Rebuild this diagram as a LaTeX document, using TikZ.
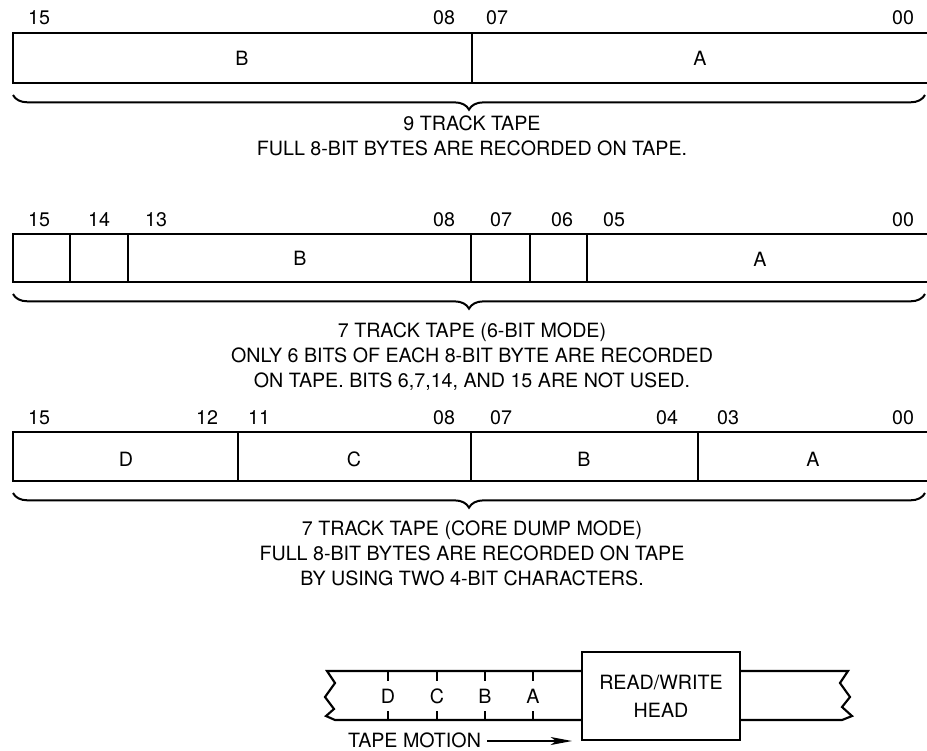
\documentclass[tikz,border=0pt]{standalone}
\usepackage{fontspec}
\setmainfont{TeX Gyre Heros}
\usetikzlibrary{decorations.pathreplacing,arrows.meta}
\begin{document}
\begin{tikzpicture}[x=0.75pt,y=-0.75pt,line width=1.6pt,line join=miter,
  txt/.style={font=\fontsize{14.75}{15}\selectfont,inner sep=0pt},
  capt/.style={font=\fontsize{14.75}{15}\selectfont,inner sep=0pt,align=center,anchor=north},
  brc/.style={decorate,decoration={brace,mirror,amplitude=11pt},line width=1.5pt},
  divl/.style={line width=1.6pt}]
\useasboundingbox (0,0) rectangle (927,750);

% ---------- register 1: 9 track
\draw (935,33) -- (13,33) -- (13,83) -- (935,83);
\draw[divl] (472,33) -- (472,83);
\node[txt] (r1b15) at (39,18) {15};
\node[txt] (r1b08) at (444,18) {08};
\node[txt] (r1b07) at (497,18) {07};
\node[txt] (r1b00) at (903,18) {00};
\node[txt] (r1B) at (242,58) {B};
\node[txt] (r1A) at (700,58) {A};
\draw[brc] (13,95) -- (925,95);
\node[capt] (r1cap) at (472,115) {9 TRACK TAPE\\[3.5pt]FULL 8-BIT BYTES ARE RECORDED ON TAPE.};

% ---------- register 2: 7 track 6-bit
\draw (935,234) -- (13,234) -- (13,282) -- (935,282);
\foreach \xx in {70,128,471,530,587} \draw[divl] (\xx,234) -- (\xx,282);
\node[txt] (r2b15) at (39,220) {15};
\node[txt] (r2b14) at (99,220) {14};
\node[txt] (r2b13) at (156,220) {13};
\node[txt] (r2b08) at (444,220) {08};
\node[txt] (r2b07) at (501,220) {07};
\node[txt] (r2b06) at (562,220) {06};
\node[txt] (r2b05) at (614,220) {05};
\node[txt] (r2b00) at (903,220) {00};
\node[txt] (r2B) at (300,258) {B};
\node[txt] (r2A) at (760,259) {A};
\draw[brc] (13,294) -- (925,294);
\node[capt] (r2cap) at (472,322) {7 TRACK TAPE (6-BIT MODE)\\[3.5pt]ONLY 6 BITS OF EACH 8-BIT BYTE ARE RECORDED\\[3.5pt]ON TAPE. BITS 6,7,14, AND 15 ARE NOT USED.};

% ---------- register 3: core dump
\draw (935,432) -- (13,432) -- (13,481) -- (935,481);
\foreach \xx in {238,471,698} \draw[divl] (\xx,432) -- (\xx,481);
\node[txt] (r3b15) at (39,418) {15};
\node[txt] (r3b12) at (207,418) {12};
\node[txt] (r3b11) at (259,418) {11};
\node[txt] (r3b08) at (444,418) {08};
\node[txt] (r3b07) at (501,418) {07};
\node[txt] (r3b04) at (667,418) {04};
\node[txt] (r3b03) at (728,418) {03};
\node[txt] (r3b00) at (903,418) {00};
\node[txt] (r3D) at (126,459) {D};
\node[txt] (r3C) at (354,459) {C};
\node[txt] (r3B) at (584,459) {B};
\node[txt] (r3A) at (813,459) {A};
\draw[brc] (13,493) -- (925,493);
\node[capt] (r3cap) at (472,520) {7 TRACK TAPE (CORE DUMP MODE)\\[3.5pt]FULL 8-BIT BYTES ARE RECORDED ON TAPE\\[3.5pt]BY USING TWO 4-BIT CHARACTERS.};

% ---------- tape and head
\node[draw,line width=1.6pt,minimum width=158*0.75pt,minimum height=88*0.75pt,inner sep=0pt] (head) at (661,696) {};
\node[txt] (headtxt1) at (661,683) {READ/WRITE};
\node[txt] (headtxt2) at (661,710) {HEAD};
\coordinate (ltop) at (327,671);
\coordinate (lbot) at (335,720);
\draw (head.west |- ltop) -- (ltop) -- (335,683) -- (325,697) -- (334,709) -- (326,716) -- (lbot) -- (head.west |- lbot);
\coordinate (rtop) at (848,671);
\coordinate (rbot) at (842,720);
\draw (head.east |- rtop) -- (rtop) -- (840,683) -- (850,697) -- (842,707) -- (852,716) -- (rbot) -- (head.east |- rbot);
\foreach \xx/\ll in {388/D,437/C,485/B,533/A}{
  \draw[line width=1.4pt] (\xx,671) -- (\xx,681);
  \draw[line width=1.4pt] (\xx,711) -- (\xx,720);
  \node[txt] (t\ll) at (\xx,696) {\ll};
}
\node[txt,anchor=east] (motion) at (482,740) {TAPE MOTION};
\coordinate (mstart) at (487,741);
\coordinate (mend) at (572,741);
\draw[line width=1.2pt,-{Stealth[length=16pt,width=6pt,inset=4pt]}] (mstart) -- (mend);
\end{tikzpicture}
\end{document}
